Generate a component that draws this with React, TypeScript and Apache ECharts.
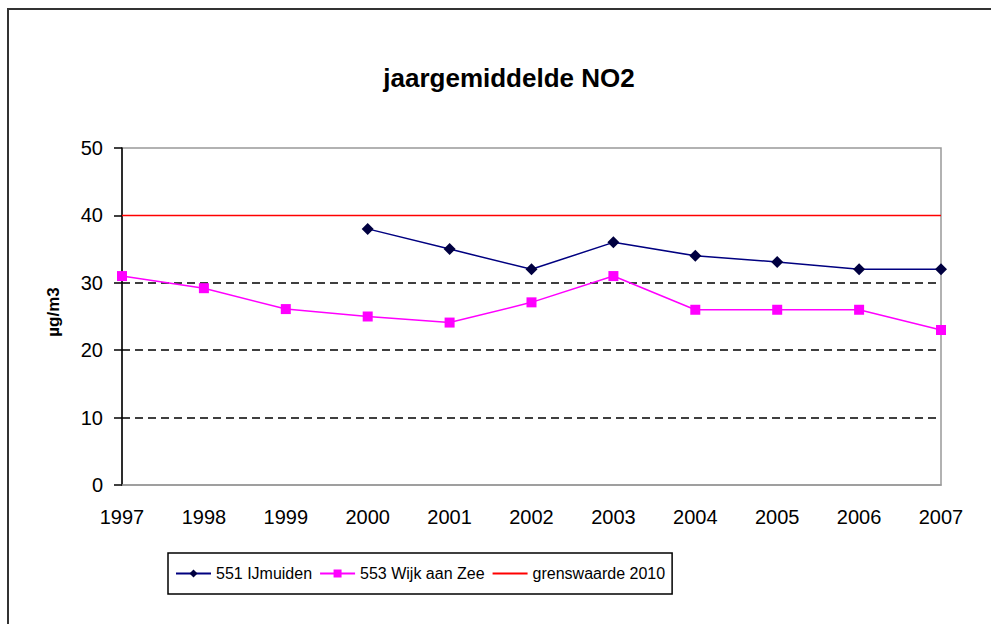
import React, { useEffect, useRef } from "react";
import * as echarts from "echarts";

const years = ["1997", "1998", "1999", "2000", "2001", "2002", "2003", "2004", "2005", "2006", "2007"];
const ijmuiden = [null, null, null, 38, 35, 32, 36, 34, 33.1, 32, 32];
const wijkAanZee = [31, 29.2, 26.1, 25, 24.1, 27.1, 31, 26, 26, 26, 23];
const grenswaarde = [40, 40, 40, 40, 40, 40, 40, 40, 40, 40, 40];
const seriesNames = ["551 IJmuiden", "553 Wijk aan Zee", "grenswaarde 2010"];
const titleText = "jaargemiddelde NO2";
const yAxisTitle = "µg/m3";

const FONT = "'Liberation Sans', Arial, sans-serif";

export default function App() {
  const ref = useRef<HTMLDivElement>(null);
  useEffect(() => {
    if (!ref.current) return;
    const chart = echarts.init(ref.current, null, { renderer: "svg" });
    chart.setOption({
      animation: false,
      backgroundColor: "#ffffff",
      textStyle: { fontFamily: FONT },
      graphic: [
        {
          type: "rect",
          shape: { x: 8, y: 9, width: 1000, height: 700 },
          style: { fill: "none", stroke: "#333", lineWidth: 2 },
          silent: true,
        },
        {
          type: "text",
          x: 509,
          y: 78,
          style: {
            text: titleText,
            font: `bold 26px ${FONT}`,
            fill: "#000",
            align: "center",
            verticalAlign: "middle",
          },
        },
        {
          type: "text",
          x: 53,
          y: 312,
          rotation: Math.PI / 2,
          style: {
            text: yAxisTitle,
            font: `bold 17px ${FONT}`,
            fill: "#000",
            align: "center",
            verticalAlign: "middle",
          },
        },
      ],
      grid: {
        left: 122,
        right: 50,
        top: 148,
        bottom: 139,
        show: true,
        borderColor: "#999",
        borderWidth: 1.5,
        backgroundColor: "transparent",
      },
      legend: {
        left: 168,
        top: 553,
        orient: "horizontal",
        padding: [12, 7, 12, 7],
        itemGap: 7,
        itemWidth: 35,
        itemHeight: 10,
        borderColor: "#000",
        borderWidth: 1.5,
        borderRadius: 0,
        data: [
          { name: seriesNames[0] },
          { name: seriesNames[1] },
          { name: seriesNames[2], itemStyle: { opacity: 0 } },
        ],
        textStyle: { fontSize: 16, color: "#000", fontFamily: FONT, lineHeight: 17 },
      },
      xAxis: {
        type: "category",
        data: years,
        boundaryGap: false,
        axisLine: { show: true, lineStyle: { color: "#999", width: 1.5 } },
        axisTick: { show: false },
        axisLabel: { color: "#000", fontSize: 20, margin: 22, fontFamily: FONT },
        splitLine: { show: false },
      },
      yAxis: {
        type: "value",
        min: 0,
        max: 50,
        interval: 10,
        axisLine: { show: true, lineStyle: { color: "#000", width: 1.5 } },
        axisTick: { show: true, inside: false, length: 8, lineStyle: { color: "#000", width: 1.5 } },
        axisLabel: { color: "#000", fontSize: 20, margin: 19, fontFamily: FONT },
        splitLine: {
          show: true,
          showMinLine: false,
          showMaxLine: false,
          lineStyle: { color: ["#000", "#000", "#000", "rgba(0,0,0,0)"], width: 1.5, type: [8, 5] },
        },
      },
      series: [
        {
          name: seriesNames[0],
          type: "line",
          data: ijmuiden,
          symbol: "diamond",
          symbolSize: 12,
          showSymbol: true,
          connectNulls: false,
          lineStyle: { color: "#000080", width: 1.5 },
          itemStyle: { color: "#000040", borderWidth: 0 },
          z: 4,
        },
        {
          name: seriesNames[1],
          type: "line",
          data: wijkAanZee,
          symbol: "rect",
          symbolSize: 10,
          showSymbol: true,
          lineStyle: { color: "#ff00ff", width: 1.5 },
          itemStyle: { color: "#ff00ff", borderWidth: 0 },
          z: 3,
        },
        {
          name: seriesNames[2],
          type: "line",
          data: grenswaarde,
          symbol: "none",
          lineStyle: { color: "#ff0000", width: 1.5 },
          itemStyle: { color: "#ff0000" },
          z: 2,
        },
      ],
    });
    return () => chart.dispose();
  }, []);
  return (
    <div
      ref={ref}
      style={{ position: "fixed", left: 0, top: 0, width: 991, height: 624, background: "#fff" }}
    />
  );
}
